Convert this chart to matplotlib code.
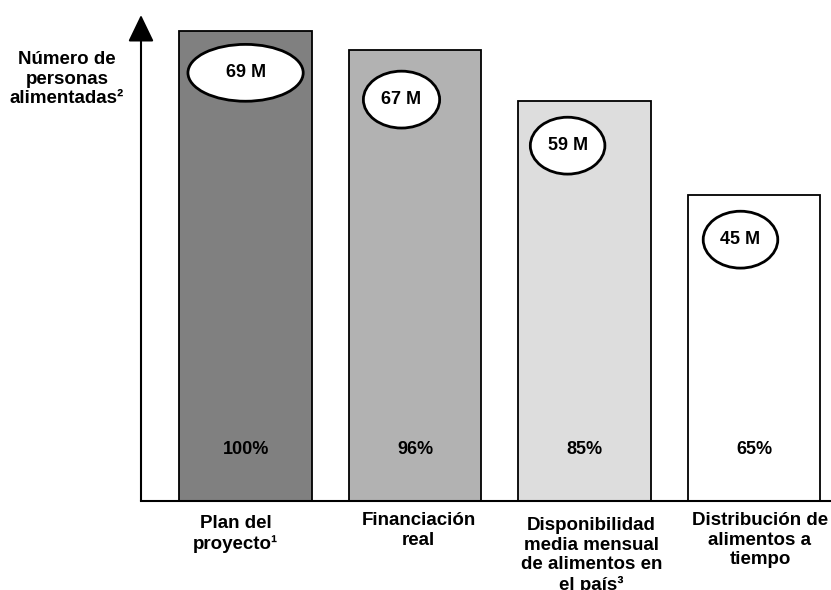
import numpy as np
import matplotlib.pyplot as plt
from matplotlib.patches import Ellipse

plt.rcParams['font.family'] = ['Liberation Sans', 'DejaVu Sans']
plt.rcParams['font.weight'] = 'bold'

categorias = ['Plan del\nproyecto¹', 'Financiación\nreal',
              'Disponibilidad\nmedia mensual\nde alimentos en\nel país³',
              'Distribución de\nalimentos a\ntiempo']
porcentajes = [100, 96, 85, 65]
personas = ['69 M', '67 M', '59 M', '45 M']

colores = ['#808080', '#b2b2b2', '#dddddd', '#ffffff']
# desplazamiento del óvalo respecto a la parte alta de cada barra
elip_dx = [0.0, -0.08, -0.10, -0.08]
elip_dy = [8.9, 10.6, 9.4, 9.4]
elip_ancho = [0.68, 0.45, 0.44, 0.44]
# ajuste fino de las etiquetas bajo cada barra
etiq_dx = [-0.06, 0.02, 0.04, 0.035]
etiq_y = [-3.0, -2.4, -3.4, -2.4]

fig = plt.figure(figsize=(8.31, 5.90), dpi=100)
ax = fig.add_axes([141/831, 89/590, 690/831, 486/590])
ax.set_xlim(-0.617, 3.454)
ax.set_ylim(0, 103.4)

x = np.arange(len(categorias))
ax.bar(x, porcentajes, width=0.78, color=colores, edgecolor='black', linewidth=1.3, zorder=2)

for i, (p, m) in enumerate(zip(porcentajes, personas)):
    cx = x[i] + elip_dx[i]
    cy = p - elip_dy[i]
    ax.add_patch(Ellipse((cx, cy), elip_ancho[i], 12.1, facecolor='white',
                         edgecolor='black', linewidth=2, zorder=3))
    ax.text(cx, cy, m, ha='center', va='center', fontsize=13, fontweight='bold', zorder=4)
    ax.text(x[i], 11.0, f'{p}%', ha='center', va='center', fontsize=13, fontweight='bold')
    ax.text(x[i] + etiq_dx[i], etiq_y[i], categorias[i], ha='center', va='top',
            fontsize=13.5, fontweight='bold', linespacing=1.2, clip_on=False)

for s in ['top', 'right', 'left']:
    ax.spines[s].set_visible(False)
ax.spines['bottom'].set_linewidth(1.5)
ax.set_yticks([])
ax.set_xticks([])

ax.annotate('', xy=(0, 1), xycoords='axes fraction', xytext=(0, 0),
            textcoords='axes fraction',
            arrowprops=dict(arrowstyle='-|>,head_length=1.66,head_width=0.8',
                            mutation_scale=10, lw=1.5, color='black',
                            shrinkA=0, shrinkB=0))

fig.text(67/831, 1 - 79/590, 'Número de\npersonas\nalimentadas²', ha='center', va='center',
         fontsize=13.5, fontweight='bold', linespacing=1.22)

fig.savefig('out.png', dpi=100)
